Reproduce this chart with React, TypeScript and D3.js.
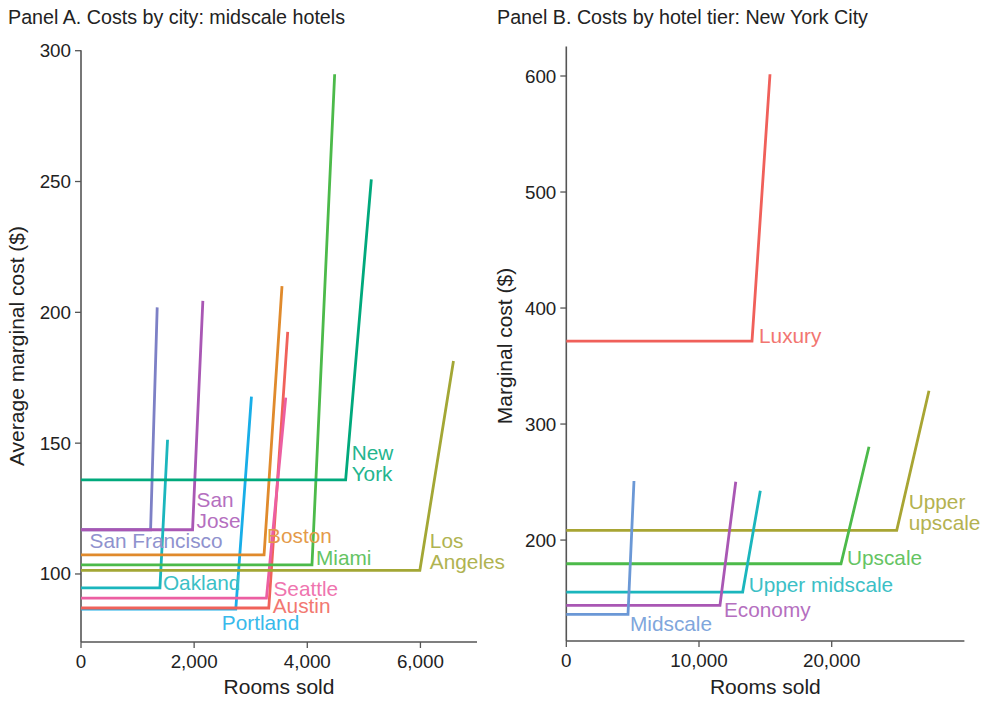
import React from "react";
import * as d3 from "d3";

// ---------- Panel A data: midscale hotels by city ----------
const citiesA = ["San Francisco", "San Jose", "Oakland", "Portland", "Austin", "Seattle", "Boston", "Miami", "Los Angeles", "New York"];
const flatCostA = [116.9, 116.9, 94.7, 86.6, 87.0, 90.8, 107.3, 103.5, 101.4, 136.0];
const capacityA = [1230, 1972, 1395, 2736, 3319, 3278, 3236, 4083, 5990, 4678];
const peakRoomsA = [1347, 2154, 1530, 3013, 3654, 3619, 3553, 4484, 6584, 5132];
const peakCostA = [201.9, 204.4, 151.3, 167.8, 192.5, 167.4, 210.0, 291.0, 181.4, 250.8];
const colorsA = ["#7d80c6", "#a957b4", "#1bb6bd", "#18aee8", "#f0625a", "#ec5fa2", "#e08a2c", "#4cba4a", "#a3a735", "#00a97c"];
const labelLinesA = [["San Francisco"], ["San", "Jose"], ["Oakland"], ["Portland"], ["Austin"], ["Seattle"], ["Boston"], ["Miami"], ["Los", "Angeles"], ["New", "York"]];
const labelOffA = [[-61, 18], [4, -23], [3, 2], [-14, 21], [4, 5], [7, -2], [3, -12], [4, 0], [10, -22], [6, -20]];
const xTicksA = [0, 2000, 4000, 6000];
const yTicksA = [100, 150, 200, 250, 300];

// ---------- Panel B data: New York City by tier ----------
const tiersB = ["Luxury", "Upper upscale", "Upscale", "Upper midscale", "Economy", "Midscale"];
const flatCostB = [371.5, 208.4, 179.6, 155.2, 143.7, 136.0];
const capacityB = [13994, 24900, 20700, 13290, 11580, 4650];
const peakRoomsB = [15350, 27330, 22810, 14620, 12770, 5100];
const peakCostB = [601.5, 328.7, 280.4, 242.5, 250.3, 250.9];
const colorsB = ["#f0605a", "#a8a533", "#4cba4a", "#1bb6bd", "#a957b4", "#6b98d6"];
const labelLinesB = [["Luxury"], ["Upper", "upscale"], ["Upscale"], ["Upper midscale"], ["Economy"], ["Midscale"]];
const labelOffB = [[7, 2], [12, -21], [6, 1], [6, 0], [4, 12], [2, 17]];
const xTicksB = [0, 10000, 20000];
const yTicksB = [200, 300, 400, 500, 600];

const FONT = "'Liberation Sans', Arial, Helvetica, sans-serif";
const AXIS = "#555";
const TEXT = "#222";
const fmt = d3.format(",");

type PanelProps = {
  title: string;
  titleX: number;
  yTitle: string;
  yTitleX: number;
  names: string[];
  flat: number[];
  cap: number[];
  peakX: number[];
  peakY: number[];
  colors: string[];
  labels: string[][];
  offs: number[][];
  xDomain: [number, number];
  xRange: [number, number];
  yDomain: [number, number];
  yRange: [number, number];
  xTicks: number[];
  yTicks: number[];
};

function Panel(p: PanelProps) {
  const x = d3.scaleLinear().domain(p.xDomain).range(p.xRange);
  const y = d3.scaleLinear().domain(p.yDomain).range(p.yRange);
  const line = d3.line<[number, number]>().x((d) => x(d[0])).y((d) => y(d[1]));
  const x0 = p.xRange[0];
  const yBot = p.yRange[0];
  const lh = 21;
  return (
    <g>
      <text x={p.titleX} y={24} fontSize={19.7} fill={TEXT} fontFamily={FONT}>{p.title}</text>
      {/* y axis */}
      <line x1={x0} x2={x0} y1={p.yRange[1] - 0.5} y2={yBot} stroke={AXIS} strokeWidth={1.6} />
      {p.yTicks.map((t) => (
        <g key={"yt" + t}>
          <line x1={x0 - 6} x2={x0} y1={y(t)} y2={y(t)} stroke={AXIS} strokeWidth={1.3} />
          <text x={x0 - 10} y={y(t) + 6.5} textAnchor="end" fontSize={18.8} fill={TEXT} fontFamily={FONT}>{fmt(t)}</text>
        </g>
      ))}
      {/* x axis */}
      <line x1={x0} x2={p.xRange[1]} y1={yBot} y2={yBot} stroke={AXIS} strokeWidth={1.6} />
      {p.xTicks.map((t) => (
        <g key={"xt" + t}>
          <line x1={x(t)} x2={x(t)} y1={yBot} y2={yBot + 6} stroke={AXIS} strokeWidth={1.3} />
          <text x={x(t)} y={yBot + 26} textAnchor="middle" fontSize={18.8} fill={TEXT} fontFamily={FONT}>{fmt(t)}</text>
        </g>
      ))}
      <text x={(p.xRange[0] + p.xRange[1]) / 2 + 0} y={694} textAnchor="middle" fontSize={21} fill={TEXT} fontFamily={FONT}>Rooms sold</text>
      <text transform={`translate(${p.yTitleX},346) rotate(-90)`} textAnchor="middle" fontSize={21} fill={TEXT} fontFamily={FONT}>{p.yTitle}</text>
      {/* curves */}
      {p.names.map((n, i) => {
        const pts: [number, number][] = [
          [0, p.flat[i]],
          [p.cap[i], p.flat[i]],
          [p.peakX[i], p.peakY[i]],
        ];
        return <path key={"c" + n} d={line(pts) || ""} fill="none" stroke={p.colors[i]} strokeWidth={2.8} strokeLinejoin="miter" />;
      })}
      {/* labels */}
      {p.names.map((n, i) => {
        const lx = x(p.cap[i]) + p.offs[i][0];
        const ly = y(p.flat[i]) + p.offs[i][1];
        const lc = d3.interpolateRgb(p.colors[i], "#ffffff")(0.14);
        return (
          <text key={"l" + n} x={lx} y={ly} fontSize={20.8} fill={lc} fontFamily={FONT}>
            {p.labels[i].map((s, k) => (
              <tspan key={k} x={lx} y={ly + k * lh}>{s}</tspan>
            ))}
          </text>
        );
      })}
    </g>
  );
}

export default function App() {
  return (
    <svg width={986} height={701} style={{ position: "absolute", left: 0, top: 0, background: "#fff" }}>
      <rect width={986} height={701} fill="#fff" />
      <Panel
        title="Panel A. Costs by city: midscale hotels"
        titleX={8}
        yTitle="Average marginal cost ($)"
        yTitleX={24}
        names={citiesA}
        flat={flatCostA}
        cap={capacityA}
        peakX={peakRoomsA}
        peakY={peakCostA}
        colors={colorsA}
        labels={labelLinesA}
        offs={labelOffA}
        xDomain={[0, 7000]}
        xRange={[81, 477]}
        yDomain={[74, 300]}
        yRange={[642, 50.7]}
        xTicks={xTicksA}
        yTicks={yTicksA}
      />
      <Panel
        title="Panel B. Costs by hotel tier: New York City"
        titleX={497}
        yTitle="Marginal cost ($)"
        yTitleX={512}
        names={tiersB}
        flat={flatCostB}
        cap={capacityB}
        peakX={peakRoomsB}
        peakY={peakCostB}
        colors={colorsB}
        labels={labelLinesB}
        offs={labelOffB}
        xDomain={[0, 30000]}
        xRange={[566.3, 964.4]}
        yDomain={[113, 625]}
        yRange={[641, 47]}
        xTicks={xTicksB}
        yTicks={yTicksB}
      />
    </svg>
  );
}
